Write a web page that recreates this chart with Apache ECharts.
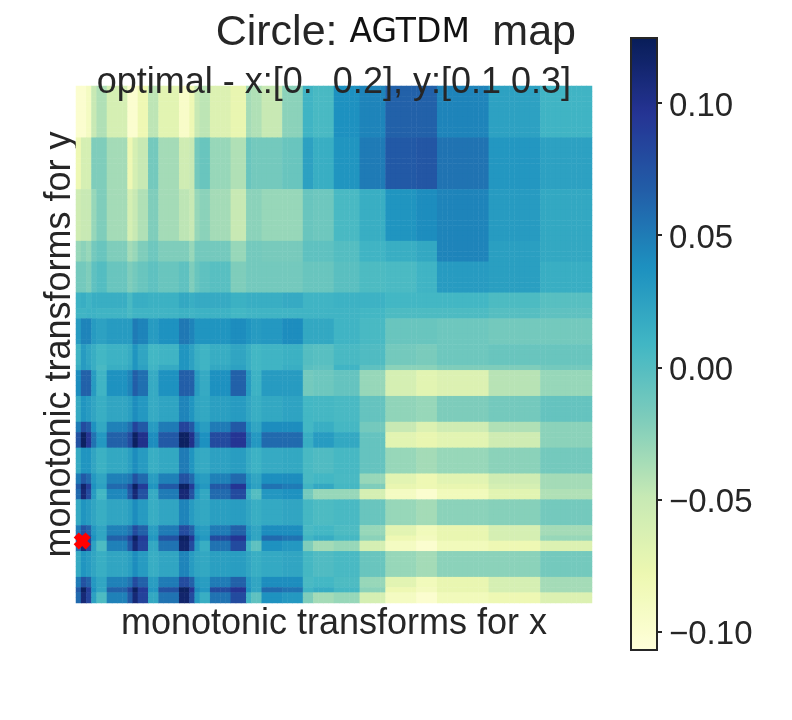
<!DOCTYPE html>
<html><head><meta charset="utf-8">
<script src="https://cdn.jsdelivr.net/npm/echarts@6/dist/echarts.min.js"></script>
<style>html,body{margin:0;padding:0;background:#fff}#c{width:792px;height:720px}</style>
</head><body><div id="c"></div>
<script>
const xEdges=[0,1,2,3,4,6,10,11,12,14,16,20,22,23,24,26,30,33,34,36,40,44,46,50,55,60,66,70,80,90,100];
const yEdges=[0,10,20,30,34,40,43,45,50,54,55,60,65,67,70,75,77,78,80,85,87,88,90,95,97,98,100];
// values in hundredths, one row per y band, one entry per x band
const r00=[-10,-10,-9,-5,-4,-6,-10,-10,-8,-4.5,-7,-9.5,-8,-5,-4.5,-6.5,-7.5,-3.5,-4,-5,-2.5,1,0.5,3.8,4.5,6.5,6.5,4.5,2.5,1];
const r01=[-8,-6,-6,-2,-2,-3.5,-8,-6,-5,-1.5,-3.5,-5.5,-5,-1.5,-1,-3,-4,-1,-1.5,-1.5,-1,2.5,1.5,3.5,5,7,7.2,5.5,3.3,2.5];
const r02=[-5.5,-5,-5,-3,-2,-3.5,-6,-5,-4,-2,-3.5,-4.5,-5,-3,-2.5,-3.5,-5,-2.5,-2.5,-3,-3,-1,-1.2,0.5,1.5,3.5,4,4.5,3,2];
const r03=[-3,-2.5,-3,-1.5,-1,-2,-3.5,-3,-2,-1.2,-2,-2,-3,-1.5,-1.5,-1.5,-3,-1.5,-1.5,-1.7,-1.7,-0.5,-0.5,0,1,1.5,2,4.5,2.7,2];
const r04=[-1.5,-1.5,-2,-0.5,0,-1,-2,-1.5,-1,-0.5,-1,-0.5,-2,-1,-0.5,-0.2,-2,-1.5,-1.5,-1.5,-1.5,-1,-1,-0.3,0.3,0.4,1,3,2.7,1.5];
const r05=[1.2,1.5,1,1.5,1.5,1.5,0.5,1.5,1.5,1.3,1.3,2,1.5,1.8,1.8,1.8,1.3,1.5,1.5,1.5,1.8,1,1,1.2,1.2,0.8,0.8,0.8,0.3,-0.2];
const r06=[1,1,1.2,1.2,1,1,0.5,1,1,1,1,1.3,1,1.2,1.2,1.2,0.8,1,1,1,1,1,1,1,0.8,0.3,0.3,0.3,-0.1,-0.5];
const r07=[3,4.5,4.5,3,2.5,3,3,5,4.5,3,3.7,5.2,4.5,3.5,3.5,3.5,4,3.5,3,3.2,4,2,2,1,0.5,-1,-1,-1.2,-1.5,-1.5];
const r08=[1,3,2.2,1.5,0.8,1.2,1.7,3.5,2.2,0.8,1,3.5,2.5,1.4,1,1.6,2.2,1.5,0.8,1,1.3,0,-0.2,0.5,0.2,-1.5,-1.8,-1.2,-1,-1];
const r09=[1.5,3,2.5,1.5,0.5,1.5,2,3.5,2.5,1,1.8,3.5,2.5,1.5,1,2,2.5,1.5,0.8,1,1.5,-0.3,-0.5,1,-0.5,-2.5,-2.5,-2,-2,-1.5];
const r10=[4,6.5,6.5,3,1,3.7,4.5,6.7,5.7,1.8,3.7,6.7,6.5,2.8,1.8,3.8,6.5,3,1.2,3,3,-1.5,-1.2,-0.8,-3,-6,-7,-6.5,-4.3,-3];
const r11=[1.8,3.5,3,2.2,1.5,2.2,2.7,4,3.2,1.8,2.3,4.5,3.5,2.2,2,2.7,3,2.2,1.5,2,2.4,0.8,0.7,0.5,-0.8,-2.7,-3,-1.9,-1.5,-0.8];
const r12=[5,8,7,3.7,2,4.7,5.7,8.5,7,3,5,8.5,7,3.7,2.8,5,7,3.5,2.2,4,4,0.8,1.5,0.7,-1.5,-5,-6.5,-5.5,-4,-2.5];
const r13=[7.5,12,9.5,5.5,3.2,6.5,8,12,10,4,7,12,10,5.5,3.8,8,9.5,5,3.2,6,6,1.5,3,2,-0.8,-7,-7.5,-7,-5.5,-2.5];
const r14=[1.8,3.5,3.5,2.2,1.3,2,2.7,4,3,1.5,2,5,3.5,2,1.8,2.5,2.8,1.8,1.2,1.8,2,0.5,0.2,0.6,-0.8,-3,-3.5,-3,-2.5,-1.5];
const r15=[5,7,6,3.2,2.2,4.7,5.2,7.5,6,2.8,4.7,7.5,6,3.2,2.8,4.7,6,3.2,2.2,3.9,4,0.5,0.8,0.5,-3,-7,-8,-7,-5.5,-3.5];
const r16=[7,11.5,9,3.7,2.5,6,8,12,9,3.5,7,12,9,4.2,3.2,7,9.5,3.7,2.5,5.5,5,1,2,0.7,-2,-7.5,-8,-7.5,-6,-3.5];
const r17=[6,11,8,3,0.8,4.3,7,11,7.5,1.8,5,11,7.5,3.3,2,6,8,1.5,0,3.3,3.7,-1.5,-3,-3,-6,-9,-10,-8.5,-7,-4];
const r18=[1.8,3.5,3,2.2,1.5,2.2,2.7,4,3,1.6,2.2,4.5,3,2.2,2,2.7,2.8,2.2,1.5,1.9,2.2,0.7,0.3,0.5,-1,-3,-3.5,-2.5,-2.3,-1.5];
const r19=[5,7.5,6.5,3.2,2.2,4.7,5.5,8,6.5,2.8,5,8,6.5,3.2,2.8,5,6.5,3.2,2.2,4,4,0.5,0.8,0.3,-3,-7,-8.5,-7.5,-6,-3.5];
const r20=[7,8,8.5,3.7,2.2,6.5,8.5,12,9,3.3,7.5,12,9.5,4.2,3.2,8,9.5,3.7,2.2,6,5.5,1,1.7,0.7,-2.5,-8,-8.8,-7.5,-6,-3];
const r21=[6,11,8.5,2.5,0.3,4.7,7,11,8.5,2,5.5,11.5,8,3,1.5,5.5,8,1,-0.5,3.7,3.2,-2,-3.5,-3,-6,-9,-10,-8.5,-8,-6.5];
const r22=[1.8,3.5,3,2.2,1.5,2.2,2.7,4,3,1.6,2.2,4.5,3,2.2,2,2.7,2.8,2.2,1.5,1.9,2.2,0.7,0.2,0.5,-1,-3,-3.5,-2.5,-2.5,-1.5];
const r23=[5,7.5,6.5,3.2,2.2,4.7,5.5,8,6.5,2.8,5,8,6.5,3.2,2.8,5,6.5,3.2,2.2,4,4,0.5,0.8,0.3,-3,-7,-8.5,-7.5,-6,-3.5];
const r24=[7,12,9,3.7,2.2,6.5,8.5,12,9,3.3,7.5,12,9.5,4.2,3.2,8,9.5,3.7,2.2,6,5.5,1,1.7,0.7,-2.5,-8,-8.8,-7.5,-6,-3.5];
const r25=[6,11,8.5,2.5,0.3,4.7,7,11,8.5,2,5.5,11.5,8,3,1.5,5.5,8,1,-0.5,3.7,3.2,-2,-3.5,-3,-6,-9,-10,-8.5,-8,-6.5];
const bandRows=[r00,r01,r02,r03,r04,r05,r06,r07,r08,r09,r10,r11,r12,r13,r14,r15,r16,r17,r18,r19,r20,r21,r22,r23,r24,r25];
const colorTicks=[-0.1,-0.05,0,0.05,0.1];
const optimalPoint=[1.2,88];
const vMin=-0.107, vMax=0.1246;
const ylGnBu=['#ffffd9','#edf8b1','#c7e9b4','#7fcdbb','#41b6c4','#1d91c0','#225ea8','#253494','#081d58'];

const ink='#262626', sans='"Liberation Sans",Arial,sans-serif';
const nCols=xEdges[xEdges.length-1], nRows=yEdges[yEdges.length-1];
const cells=[];
bandRows.forEach((row,j)=>{
  for(let y=yEdges[j];y<yEdges[j+1];y++)
    row.forEach((v,i)=>{ for(let x=xEdges[i];x<xEdges[i+1];x++) cells.push([x,y,v/100]); });
});
const idx=n=>Array.from({length:n},(_,i)=>i);
const chart=echarts.init(document.getElementById('c'),null,{renderer:'canvas'});
chart.setOption({
  animation:false,
  backgroundColor:'#fff',
  title:[
    {right:211,top:7,text:'{a|Circle: }{b|AGTDM}{b| }{a| map}',
     textStyle:{fontWeight:'normal',rich:{a:{fontFamily:sans,fontSize:43,fontWeight:'normal',color:ink},b:{fontFamily:'"DejaVu Sans"',fontSize:33,fontWeight:'normal',color:'#111'}}}},
    {right:216,top:60,text:'optimal - x:[0.  0.2], y:[0.1 0.3]',
     textStyle:{fontFamily:sans,fontSize:36,fontWeight:'normal',color:ink}}
  ],
  grid:[
    {left:76,top:86,width:516,height:517,show:false},
    {left:631,top:38,width:26,height:612,show:true,z:5,backgroundColor:'transparent',borderColor:ink,borderWidth:2}
  ],
  xAxis:[
    {type:'category',gridIndex:0,data:idx(nCols),axisLine:{show:false},axisTick:{show:false},axisLabel:{show:false},splitLine:{show:false},
     name:'monotonic transforms for x',nameLocation:'middle',nameGap:3,nameTextStyle:{fontFamily:sans,fontSize:36,color:ink}},
    {type:'value',gridIndex:1,min:0,max:1,show:false},
    {type:'value',gridIndex:0,min:0,max:100,show:false}
  ],
  yAxis:[
    {type:'category',gridIndex:0,inverse:true,data:idx(nRows),axisLine:{show:false},axisTick:{show:false},axisLabel:{show:false},splitLine:{show:false},
     name:'monotonic transforms for y',nameLocation:'middle',nameGap:-2,nameTextStyle:{fontFamily:sans,fontSize:36,color:ink}},
    {type:'value',gridIndex:1,position:'right',min:vMin,max:vMax,splitLine:{show:false},
     axisLine:{show:true,onZero:false,lineStyle:{color:ink,width:2}},
     axisTick:{show:true,length:5,lineStyle:{color:ink,width:2},customValues:colorTicks},
     axisLabel:{show:true,margin:12,customValues:colorTicks,
       rich:{t:{fontFamily:sans,fontSize:33,color:ink,padding:[7,0,0,0]}},
       formatter:v=>'{t|'+(v<0?'\u2212':'')+Math.abs(v).toFixed(2)+'}'}},
    {type:'value',gridIndex:0,inverse:true,min:0,max:100,show:false}
  ],
  visualMap:{type:'continuous',seriesIndex:0,dimension:2,min:vMin,max:vMax,calculable:false,realtime:false,
    left:631,top:38,itemWidth:26,itemHeight:612,text:['',''],padding:0,z:1,
    inRange:{color:ylGnBu},textStyle:{fontSize:1,color:'transparent'}},
  series:[
    {type:'heatmap',xAxisIndex:0,yAxisIndex:0,data:cells,progressive:0,itemStyle:{borderWidth:0},emphasis:{disabled:true}},
    {type:'scatter',xAxisIndex:1,yAxisIndex:1,data:[],silent:true},
    {type:'scatter',xAxisIndex:2,yAxisIndex:2,data:[optimalPoint],symbol:'path://M3,0 L5,2 L7,0 L10,3 L8,5 L10,7 L7,10 L5,8 L3,10 L0,7 L2,5 L0,3 Z',
     symbolSize:17,itemStyle:{color:'#ff0000',opacity:1},clip:true,z:5,silent:true}
  ]
});
</script></body></html>
